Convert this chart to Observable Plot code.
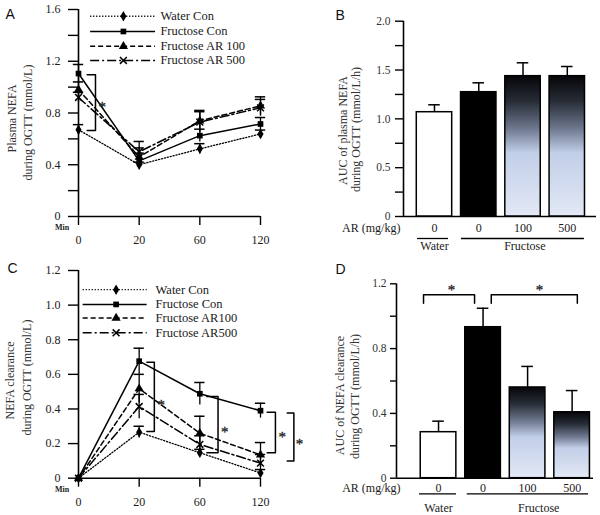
<!DOCTYPE html>
<html><head><meta charset="utf-8">
<script src="https://cdn.jsdelivr.net/npm/d3@7"></script>
<script src="https://cdn.jsdelivr.net/npm/@observablehq/plot@0.6"></script>
<style>
html,body{margin:0;padding:0;background:#fff;}
#fig{position:relative;width:600px;height:515px;overflow:hidden;background:#fff;}
#fig svg{position:absolute;left:0;top:0;background:transparent;overflow:visible;}
#fig svg text{font-family:'Liberation Serif','Times New Roman',serif;}
#fig svg text.letter{font-family:'Liberation Sans',Arial,sans-serif;}
</style></head><body><div id="fig"></div>
<script>
// ---------------- DATA ----------------
const timeLabels = ["0", "20", "60", "120"];
const seriesNamesA = ["Water Con", "Fructose Con", "Fructose AR 100", "Fructose AR 500"];
const seriesNamesC = ["Water Con", "Fructose Con", "Fructose AR100", "Fructose AR500"];

// Panel A: plasma NEFA (mmol/L)
const nefaWater = [0.67, 0.40, 0.523, 0.638];
const nefaWaterErr = [0.04, 0.02, 0.04, 0.03];
const nefaFruc = [1.105, 0.43, 0.625, 0.715];
const nefaFrucErr = [0.07, 0.06, 0.05, 0.05];
const nefaAR100 = [0.98, 0.46, 0.74, 0.855];
const nefaAR100Err = [0.06, 0.07, 0.08, 0.07];
const nefaAR500 = [0.92, 0.50, 0.73, 0.84];
const nefaAR500Err = [0.04, 0.08, 0.08, 0.065];

// Panel C: NEFA clearance (mmol/L)
const clrWater = [0, 0.266, 0.147, 0.03];
const clrWaterErr = [0, 0.034, 0.02, 0.02];
const clrFruc = [0, 0.676, 0.488, 0.39];
const clrFrucErr = [0, 0.075, 0.065, 0.043];
const clrAR100 = [0, 0.517, 0.26, 0.135];
const clrAR100Err = [0, 0.083, 0.098, 0.071];
const clrAR500 = [0, 0.414, 0.195, 0.087];
const clrAR500Err = [0, 0.07, 0.05, 0.05];

// Panels B and D: bar groups
const barDrink = ["Water", "Fructose", "Fructose", "Fructose"];
const barDose = ["0", "0", "100", "500"];
const aucNefa = [1.068, 1.273, 1.437, 1.437];
const aucNefaErr = [0.076, 0.096, 0.137, 0.099];
const aucClr = [0.284, 0.932, 0.56, 0.407];
const aucClrErr = [0.068, 0.117, 0.13, 0.134];

// ---------------- STYLE / LAYOUT ----------------
const W = 600, H = 515;
const serif = "'Liberation Serif','Times New Roman',serif";
const sans = "'Liberation Sans',Arial,sans-serif";
const fig = document.getElementById("fig");
const lineStyles = [
  {dash: "1.2,1.8", width: 1.3, symbol: "diamond", r: 3.2},
  {dash: null, width: 1.5, symbol: "square", r: 3.2},
  {dash: "5,3", width: 1.5, symbol: "triangle", r: 3.4},
  {dash: "9,3,2,3", width: 1.5, symbol: "times", r: 3.2}
];
const barFills = ["white", "black", "grad", "grad"];

function styleBase(){
  return {background: "transparent", fontFamily: serif, fontSize: "12px", color: "#1a1a1a", overflow: "visible"};
}
function gradientDefs(id){
  return () => {
    const defs = d3.create("svg:defs");
    const g = defs.append("linearGradient").attr("id", id)
      .attr("x1", 0).attr("y1", 0).attr("x2", 0).attr("y2", 1);
    [[0, "#050608"], [0.18, "#262b35"], [0.38, "#6f7a90"], [0.55, "#c2cfe8"], [1, "#e2e8f5"]]
      .forEach(([o, c]) => g.append("stop").attr("offset", o).attr("stop-color", c));
    return defs.node();
  };
}
function fmt1(d){ return d === 0 ? "0" : d.toFixed(1); }
const T = {fontFamily: serif};
const STAR = {fontSize: 15, fill: "#222", stroke: "#222", strokeWidth: 0.3, fontFamily: serif};

// ---------------- LINE PANEL ----------------
function linePanel(cfg){
  const series = cfg.values.map((vals, s) => vals.map((v, i) => ({s, i, v, e: cfg.errs[s][i]})));
  const flat = series.flat();
  const marks = [];
  // axes
  marks.push(Plot.ruleX([0], {y1: 0, y2: cfg.ymax, stroke: "black", strokeWidth: 1.6}));
  marks.push(Plot.ruleY([0], {x1: 0, x2: 3, stroke: "black", strokeWidth: 1.6}));
  marks.push(Plot.axisY({ticks: cfg.majorTicks, tickFormat: fmt1, tickSize: 10, tickPadding: 8, label: null, stroke: "black", strokeWidth: 1.4, fill: "#1a1a1a", fontSize: 12, ...T}));
  if (cfg.minorTicks.length) marks.push(Plot.axisY({ticks: cfg.minorTicks, tickSize: 10, text: null, label: null, stroke: "black", strokeWidth: 1.4}));
  marks.push(Plot.axisX({ticks: [0, 1, 2, 3], tickFormat: i => timeLabels[i], tickSize: 9, tickPadding: 10, label: null, stroke: "black", strokeWidth: 1.4, fill: "#1a1a1a", fontSize: 12, ...T}));
  marks.push(Plot.text(["Min"], {x: -0.27, y: 0, dy: 11, text: d => d, fontSize: 8, fontWeight: "bold", fill: "#222", ...T}));
  // error bars
  const errs = flat.filter(d => d.e > 0);
  marks.push(Plot.ruleX(errs, {x: "i", y1: d => d.v - d.e, y2: d => d.v + d.e, stroke: "black", strokeWidth: 1.3}));
  marks.push(Plot.ruleY(errs, {y: d => d.v + d.e, x1: d => d.i - 0.085, x2: d => d.i + 0.085, stroke: "black", strokeWidth: 1.5}));
  // lines + markers
  series.forEach((rows, s) => {
    const st = lineStyles[s];
    marks.push(Plot.line(rows, {x: "i", y: "v", stroke: "black", strokeWidth: st.width, strokeDasharray: st.dash}));
    if (st.symbol === "times") marks.push(Plot.dot(rows, {x: "i", y: "v", symbol: "times", r: st.r, stroke: "black", strokeWidth: 1.5}));
    else marks.push(Plot.dot(rows, {x: "i", y: "v", symbol: st.symbol, r: st.r, fill: "black", stroke: "none"}));
  });
  // legend
  const L = cfg.legend;
  const legRows = cfg.names.map((name, s) => ({s, name, y: L.ys[s]}));
  legRows.forEach(row => {
    const st = lineStyles[row.s];
    marks.push(Plot.ruleY([row], {y: "y", x1: L.x1, x2: L.x2, stroke: "black", strokeWidth: st.width, strokeDasharray: st.dash}));
    if (st.symbol === "times") marks.push(Plot.dot([row], {x: L.xm, y: "y", symbol: "times", r: st.r, stroke: "black", strokeWidth: 1.5}));
    else marks.push(Plot.dot([row], {x: L.xm, y: "y", symbol: st.symbol, r: st.r, fill: "black", stroke: "none"}));
  });
  marks.push(Plot.text(legRows, {x: L.xt, y: "y", text: "name", textAnchor: "start", fontSize: 12.5, fill: "#1a1a1a", ...T}));
  // significance brackets
  cfg.brackets.forEach(b => {
    marks.push(Plot.line([[b.x0, b.top], [b.x, b.top], [b.x, b.bot], [b.x0, b.bot]], {x: d => d[0], y: d => d[1], stroke: "black", strokeWidth: 1.5}));
    marks.push(Plot.text(["*"], {x: b.sx, y: b.sy, text: d => d, dy: 3, ...STAR}));
  });
  return Plot.plot({
    width: W, height: H,
    marginLeft: 78, marginRight: W - 260, marginTop: cfg.top, marginBottom: H - cfg.bottom,
    x: {type: "linear", domain: [0, 3], axis: null},
    y: {type: "linear", domain: [0, cfg.ymax], axis: null},
    style: styleBase(),
    marks
  });
}

// ---------------- BAR PANEL ----------------
function barPanel(cfg){
  const bars = cfg.values.map((v, k) => ({pos: k + 1, v, e: cfg.errs[k], dose: barDose[k], drink: barDrink[k], fill: barFills[k] === "grad" ? `url(#${cfg.gradId})` : barFills[k]}));
  const marks = [gradientDefs(cfg.gradId)];
  marks.push(Plot.ruleX([cfg.x0], {y1: 0, y2: cfg.ymax, stroke: "black", strokeWidth: 1.6}));
  marks.push(Plot.ruleY([0], {x1: cfg.x0, x2: cfg.x1, stroke: "black", strokeWidth: 1.6}));
  marks.push(Plot.axisY({ticks: cfg.majorTicks, tickFormat: fmt1, tickSize: cfg.tickSize, tickPadding: cfg.tickPad, label: null, stroke: "black", strokeWidth: 1.4, fill: "#333", fontSize: 11.5, ...T}));
  marks.push(Plot.axisY({ticks: cfg.minorTicks, tickSize: cfg.tickSize, text: null, label: null, stroke: "black", strokeWidth: 1.4}));
  // error bars (upward)
  marks.push(Plot.ruleX(bars, {x: "pos", y1: "v", y2: d => d.v + d.e, stroke: "black", strokeWidth: 1.5}));
  marks.push(Plot.ruleY(bars, {y: d => d.v + d.e, x1: d => d.pos - 0.13, x2: d => d.pos + 0.13, stroke: "black", strokeWidth: 1.5}));
  marks.push(Plot.rectY(bars, {x1: d => d.pos - 0.4, x2: d => d.pos + 0.4, y1: 0, y2: "v", fill: "fill", stroke: "black", strokeWidth: 1.5}));
  // category labels
  marks.push(Plot.text(bars, {x: "pos", y: 0, text: "dose", dy: cfg.labelDy, fontSize: 12, fill: "#1a1a1a", ...T}));
  marks.push(Plot.text(["AR (mg/kg)"], {x: cfg.arX, y: 0, dy: cfg.labelDy, text: d => d, textAnchor: "end", fontSize: 12, fill: "#1a1a1a", ...T}));
  const groupsG = [
    {name: "Water", x1: cfg.waterLine[0], x2: cfg.waterLine[1], cx: 1},
    {name: "Fructose", x1: cfg.frucLine[0], x2: cfg.frucLine[1], cx: cfg.frucCx}
  ];
  marks.push(Plot.ruleY(groupsG, {y: 0, x1: "x1", x2: "x2", dy: cfg.lineDy, stroke: "black", strokeWidth: 1.3}));
  marks.push(Plot.text(groupsG, {x: "cx", y: 0, text: "name", dy: cfg.groupDy, fontSize: 12, fill: "#1a1a1a", ...T}));
  (cfg.brackets || []).forEach(b => {
    marks.push(Plot.line([[b.a, b.low], [b.a, b.top], [b.b, b.top], [b.b, b.low]], {x: d => d[0], y: d => d[1], stroke: "black", strokeWidth: 1.5}));
    marks.push(Plot.text(["*"], {x: b.sx, y: b.top, text: d => d, dy: -5, ...STAR}));
  });
  return Plot.plot({
    width: W, height: H,
    marginLeft: cfg.left, marginRight: W - cfg.right, marginTop: cfg.top, marginBottom: H - cfg.bottom,
    x: {type: "linear", domain: [cfg.x0, cfg.x1], axis: null},
    y: {type: "linear", domain: [0, cfg.ymax], axis: null},
    style: styleBase(),
    marks
  });
}

const panelA = linePanel({
  values: [nefaWater, nefaFruc, nefaAR100, nefaAR500],
  errs: [nefaWaterErr, nefaFrucErr, nefaAR100Err, nefaAR500Err],
  names: seriesNamesA, ymax: 1.6, top: 9, bottom: 216,
  majorTicks: [0, 0.4, 0.8, 1.2, 1.6], minorTicks: [0.2, 0.6, 1.0, 1.4],
  legend: {x1: 0.2, x2: 1.27, xm: 0.74, xt: 1.35, ys: [1.548, 1.43, 1.316, 1.206]},
  brackets: [{x0: 0.143, x: 0.28, top: 1.095, bot: 0.665, sx: 0.39, sy: 0.87}]
});
const panelC = linePanel({
  values: [clrWater, clrFruc, clrAR100, clrAR500],
  errs: [clrWaterErr, clrFrucErr, clrAR100Err, clrAR500Err],
  names: seriesNamesC, ymax: 1.2, top: 270, bottom: 477.7,
  majorTicks: [0, 0.2, 0.4, 0.6, 0.8, 1.0, 1.2], minorTicks: [],
  legend: {x1: 0.077, x2: 1.132, xm: 0.62, xt: 1.27, ys: [1.089, 1.004, 0.925, 0.84]},
  brackets: [
    {x0: 1.127, x: 1.25, top: 0.67, bot: 0.27, sx: 1.363, sy: 0.439},
    {x0: 2.116, x: 2.30, top: 0.472, bot: 0.147, sx: 2.411, sy: 0.286},
    {x0: 3.11, x: 3.246, top: 0.381, bot: 0.147, sx: 3.358, sy: 0.257},
    {x0: 3.44, x: 3.55, top: 0.376, bot: 0.10, sx: 3.643, sy: 0.212}
  ]
});
const panelB = barPanel({
  values: aucNefa, errs: aucNefaErr, gradId: "gradB",
  left: 403, right: 596, top: 20.7, bottom: 216, x0: 0.3, x1: 4.66, ymax: 2.0,
  majorTicks: [0, 0.5, 1.0, 1.5, 2.0], minorTicks: [0.25, 0.75, 1.25, 1.75],
  tickSize: 8, tickPad: 5, labelDy: 12, arX: 0.23, lineDy: 22, groupDy: 30,
  waterLine: [0.616, 1.316], frucLine: [1.61, 4.386], frucCx: 3.04
});
const panelD = barPanel({
  values: aucClr, errs: aucClrErr, gradId: "gradD",
  left: 396, right: 593, top: 283.3, bottom: 477.7, x0: 0.056, x1: 4.48, ymax: 1.2,
  majorTicks: [0, 0.4, 0.8, 1.2], minorTicks: [0.2, 0.6, 1.0],
  tickSize: 6, tickPad: 4, labelDy: 9.5, arX: 0.146, lineDy: 15.6, groupDy: 30,
  waterLine: [0.573, 1.404], frucLine: [1.645, 4.37], frucCx: 3.25,
  brackets: [
    {a: 0.663, b: 1.809, top: 1.132, low: 1.08, sx: 1.29},
    {a: 2.184, b: 4.117, top: 1.132, low: 1.08, sx: 3.27}
  ]
});

// annotation overlay: panel letters and axis titles (pixel space)
const panelLetters = [
  {t: "A", x: 5, y: 18}, {t: "B", x: 335, y: 19}, {t: "C", x: 7, y: 272}, {t: "D", x: 335, y: 273}
];
const axisTitles = [
  {t: "Plasma NEFA", x: 12, y: 118}, {t: "during OGTT (mmol/L)", x: 28, y: 122},
  {t: "AUC of plasma NEFA", x: 343, y: 130}, {t: "during OGTT (mmol/L/h)", x: 356, y: 129},
  {t: "NEFA clearance", x: 10, y: 380}, {t: "during OGTT (mmol/L)", x: 26.5, y: 377},
  {t: "AUC of NEFA clearance", x: 340, y: 395}, {t: "during OGTT (mmol/L/h)", x: 355, y: 396}
];
const overlay = Plot.plot({
  width: W, height: H, margin: 0,
  x: {domain: [0, W], range: [0, W], axis: null},
  y: {domain: [0, H], range: [0, H], axis: null},
  style: styleBase(),
  marks: [
    Plot.text(panelLetters, {x: "x", y: "y", text: "t", textAnchor: "start", lineAnchor: "bottom", fontFamily: sans, fontSize: 14, fill: "#111"}),
    Plot.text(axisTitles, {x: "x", y: "y", text: "t", rotate: -90, fontSize: 12, fill: "#333", ...T})
  ]
});
overlay.querySelectorAll("text").forEach(t => { if (/^[ABCD]$/.test(t.textContent)) t.setAttribute("class", "letter"); });

[panelA, panelB, panelC, panelD, overlay].forEach(p => fig.appendChild(p));
</script>
</body></html>
